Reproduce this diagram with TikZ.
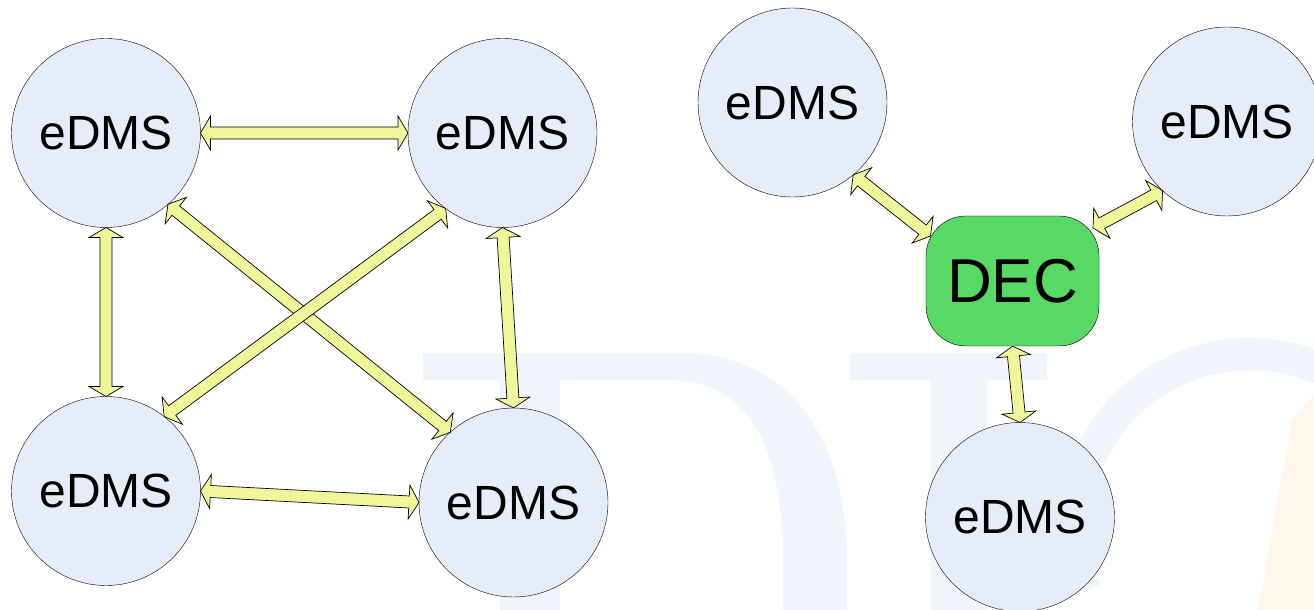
\documentclass[tikz,border=0pt]{standalone}
\usepackage{fontspec}
\setmainfont{Liberation Sans}
\usepackage{tkz-graph}
\usetikzlibrary{calc}

\definecolor{dmsblue}{RGB}{230,237,248}
\definecolor{decgreen}{RGB}{88,216,100}
\definecolor{linkyellow}{RGB}{240,247,155}
\definecolor{markblue}{RGB}{241,245,252}
\definecolor{markorange}{RGB}{255,247,235}

% two-headed block arrow between two anchors
\def\BiEdge(#1)(#2){%
  \draw[LinkStyle] let \p1=(#1), \p2=(#2),
      \n1={atan2(\y2-\y1,\x2-\x1)}, \n2={veclen(\x2-\x1,\y2-\y1)-20} in
    (\p1) -- ++($(\n1:10)+(\n1+90:17)$) -- ++(\n1-90:11) -- ++(\n1:\n2)
    -- ++(\n1+90:11) -- (\p2) -- ++($(\n1+180:10)+(\n1-90:17)$)
    -- ++(\n1+90:11) -- ++(\n1+180:\n2) -- ++(\n1-90:11) -- cycle;}

\begin{document}
\begin{tikzpicture}[x=1pt,y=1pt]
                \tikzset{VertexStyle/.style = {shape=circle, draw, thin, fill=dmsblue,
                         inner sep=0pt, minimum size=189pt, font=\fontsize{48}{58}\selectfont}}
                \tikzset{DecStyle/.style = {shape=rectangle, draw, thin, rounded corners=40pt, fill=decgreen,
                         minimum width=173pt, minimum height=130pt, font=\fontsize{62}{74}\selectfont}}
                \tikzset{LinkStyle/.style = {draw=black, line width=0.7pt, fill=linkyellow, line join=miter}}
                \useasboundingbox (0,0) rectangle (1314,610);

                % faint logo in the background
                \fill[markblue, even odd rule] (423,257) -- (680,257) .. controls (790,257) and (847,170) .. (847,50)
                     -- (847,0) -- (500,0) -- (500,230) -- (423,230) -- cycle
                     (560,230) -- (670,230) .. controls (750,230) and (783,160) .. (783,50) -- (783,0) -- (560,0) -- cycle;
                \fill[markblue] (850,257) -- (1047,257) -- (1047,230) -- (987,230) -- (987,0) -- (931,0) -- (931,230) -- (850,230) -- cycle;
                \draw[markblue, line width=32pt] ([shift={(200:176)}]1250,80) arc[start angle=200, end angle=10, radius=176];
                \fill[markorange] (1292,190) -- (1314,215) -- (1314,0) -- (1258,0) -- cycle;

                \Vertex[x=106, y=477, L=eDMS]{V1}
                \Vertex[x=502.5, y=477, L=eDMS]{V2}
                \Vertex[x=106, y=119, L=eDMS]{V3}
                \Vertex[x=513.5, y=107.5, L=eDMS]{V4}
                \Vertex[x=792.5, y=507.5, L=eDMS]{V5}
                \Vertex[x=1227, y=488.5, L=eDMS]{V6}
                \Vertex[x=1020, y=93, L=eDMS]{V7}
                \node[DecStyle] (DEC) at (1012.5,329) {DEC};

                \BiEdge(V1.east)(V2.west)
                \BiEdge(V1.south)(V3.north)
                \BiEdge(V2.south)(V4.north)
                \BiEdge(V1.-49)(V4.132)
                \BiEdge(V3.52)(V2.-127)
                \BiEdge(V3.east)(V4.west)
                \BiEdge(V5.-50)({$(DEC)+(-82,45)$})
                \BiEdge(V6.-133)({$(DEC)+(80.5,53)$})
                \BiEdge(DEC.south)(V7.north)

            \end{tikzpicture}
\end{document}
